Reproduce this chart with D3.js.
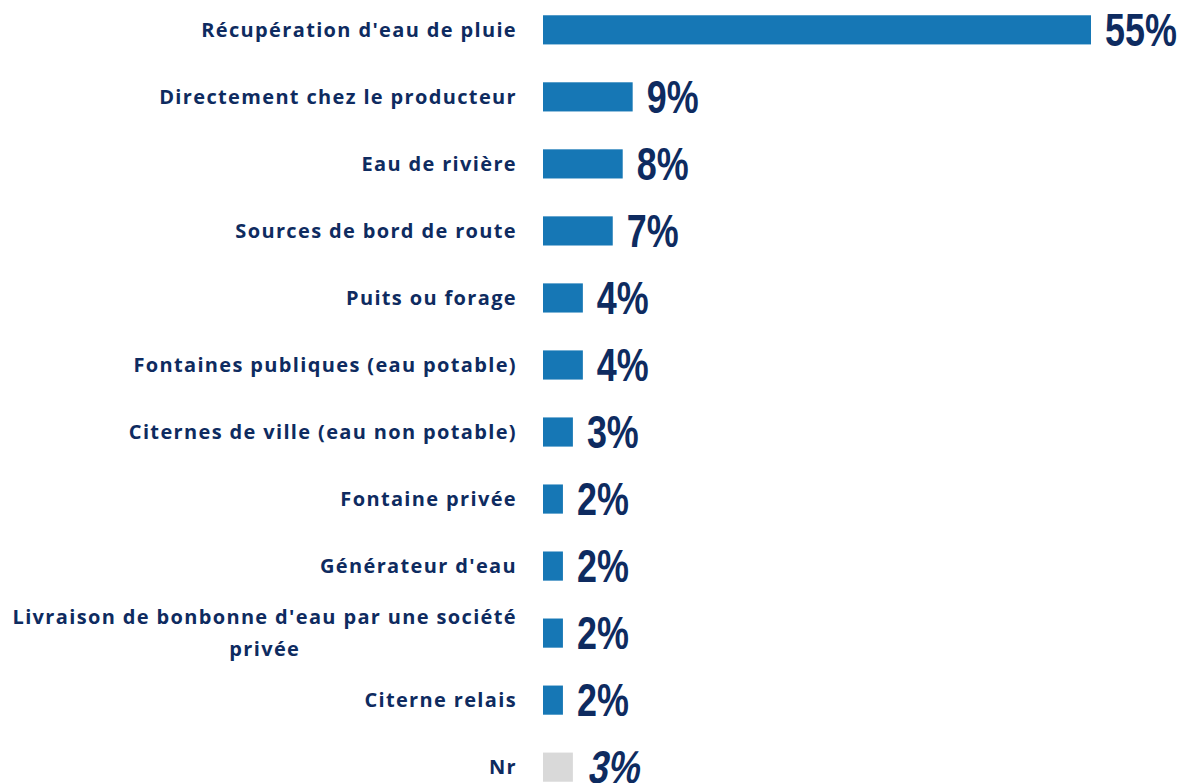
<!DOCTYPE html>
<html>
<head>
<meta charset="utf-8">
<script src="https://cdn.jsdelivr.net/npm/d3@7"></script>
<style>
  html, body { margin: 0; padding: 0; background: #fff; }
  svg { display: block; }
</style>
</head>
<body>
<svg id="chart" width="1182" height="783"></svg>
<script>
// Water sources (share of respondents, %)
const categories = [
  "Récupération d'eau de pluie",
  "Directement chez le producteur",
  "Eau de rivière",
  "Sources de bord de route",
  "Puits ou forage",
  "Fontaines publiques (eau potable)",
  "Citernes de ville (eau non potable)",
  "Fontaine privée",
  "Générateur d'eau",
  "Livraison de bonbonne d'eau par une société\nprivée",
  "Citerne relais",
  "Nr"
];
const values = [55, 9, 8, 7, 4, 4, 3, 2, 2, 2, 2, 3];
const valueLabels = ["55%", "9%", "8%", "7%", "4%", "4%", "3%", "2%", "2%", "2%", "2%", "3%"];
const missingCategory = "Nr";

const svg = d3.select("#chart");
const barLeft = 543;
const labelRight = 517;

const x = d3.scaleLinear().domain([0, 55]).range([barLeft, barLeft + 548]);
const y = d3.scaleBand().domain(categories).range([-3.5, 800.5]).paddingInner(0.565).paddingOuter(0.28);

const blue = "#1677b5";
const grey = "#d9d9d9";
const navy = "#0e2b60";
const labelFont = "'Open Sans', Lato, sans-serif";

const rows = svg.selectAll("g.row").data(categories).join("g").attr("class", "row");

rows.append("rect")
  .attr("x", x(0))
  .attr("y", d => y(d))
  .attr("width", (d, i) => x(values[i]) - x(0))
  .attr("height", y.bandwidth())
  .attr("fill", d => d === missingCategory ? grey : blue);

function styleLabel(t) {
  return t.attr("font-family", labelFont)
    .attr("font-weight", 700)
    .attr("font-size", 20)
    .attr("letter-spacing", 1.35)
    .attr("fill", navy);
}

// Category labels, right aligned; wrapped lines centred under the first line
rows.each(function(d) {
  const g = d3.select(this);
  const lines = d.split("\n");
  const cy = y(d) + y.bandwidth() / 2;
  const lh = 32;
  const top = cy - (lines.length - 1) * lh / 2;
  const first = styleLabel(g.append("text"))
    .attr("x", labelRight)
    .attr("y", top)
    .attr("dy", "0.35em")
    .attr("text-anchor", "end")
    .text(lines[0]);
  if (lines.length > 1) {
    const w = first.node().getComputedTextLength();
    const centre = labelRight - w / 2;
    lines.slice(1).forEach((ln, k) => {
      styleLabel(g.append("text"))
        .attr("x", centre)
        .attr("y", top + (k + 1) * lh)
        .attr("dy", "0.35em")
        .attr("text-anchor", "middle")
        .text(ln);
    });
  }
});

// Value labels in a condensed heavy face
rows.append("text")
  .attr("transform", (d, i) => {
    const tx = x(values[i]) + 14;
    const ty = y(d) + y.bandwidth() / 2 + 16;
    return `translate(${tx},${ty}) scale(0.78,1)` + (d === missingCategory ? " skewX(-14)" : "");
  })
  .attr("font-family", "'Liberation Sans', Arial, sans-serif")
  .attr("font-weight", 700)
  .attr("font-size", 46)
  .attr("fill", navy)
  .text((d, i) => valueLabels[i]);
</script>
</body>
</html>
